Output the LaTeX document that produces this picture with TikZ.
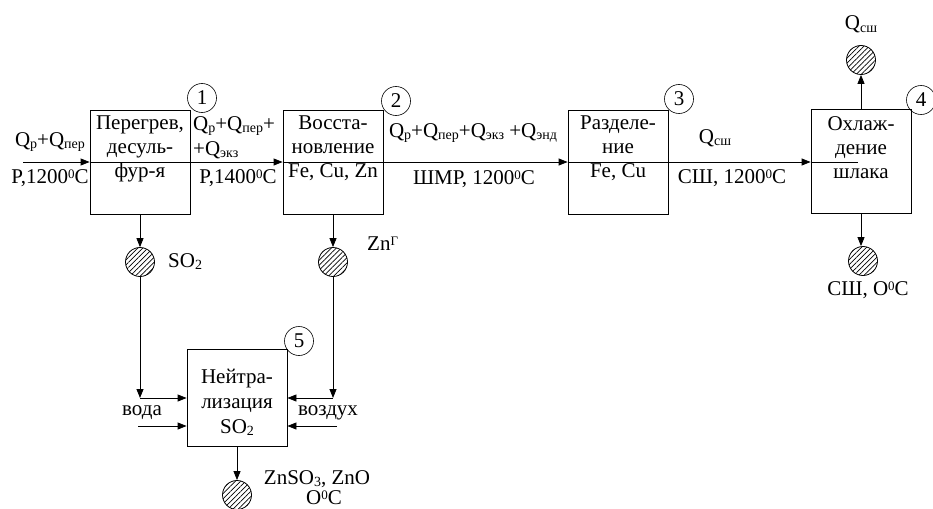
\documentclass[tikz,border=0pt]{standalone}
\usepackage{fontspec}
\setmainfont{Liberation Serif}
\usetikzlibrary{arrows.meta,patterns.meta}
\newcommand\subs[1]{\raisebox{-2.2pt}{\fontsize{14}{14}\selectfont #1}}
\newcommand\sups[1]{\raisebox{5pt}{\fontsize{13}{13}\selectfont #1}}
\begin{document}
\begin{tikzpicture}[x=1pt,y=-1pt,
  box/.style={draw,line width=0.8pt,minimum width=100pt,minimum height=104pt,inner sep=0},
  txt/.style={font=\fontsize{21}{24}\selectfont,align=center,inner sep=0,anchor=north},
  lbl/.style={font=\fontsize{21}{24}\selectfont,inner sep=0,anchor=base},
  num/.style={draw,circle,minimum size=29pt,inner sep=0,font=\fontsize{21}{24}\selectfont,line width=0.6pt},
  hat/.style={draw,circle,minimum size=29pt,inner sep=0,line width=0.8pt,
    pattern={Lines[angle=45,distance=3.6pt,line width=0.7pt]}},
  arr/.style={-{Triangle[length=9pt,width=7pt]},line width=0.8pt},
  ln/.style={line width=0.8pt}]
\useasboundingbox (0,0) rectangle (933,508);
% boxes
\node[box] (b1) at (140,162) {};
\node[box] (b2) at (333,162) {};
\node[box] (b3) at (618,162) {};
\node[box] (b4) at (861,161) {};
\node[box,minimum height=97pt] (b5) at (237,397.5) {};
% box texts
\node[txt] (t1) at (140,116) {Перегрев,\\десуль-\\фур-я};
\node[txt] (t2) at (333,116) {Восста-\\новление\\Fe, Cu, Zn};
\node[txt] (t3) at (618,116) {Разделе-\\ние\\Fe, Cu};
\node[txt] (t4) at (861,116) {Охлаж-\\дение\\шлака};
\node[txt,font=\fontsize{21}{25}\selectfont] (t5) at (237,369) {Нейтра-\\лизация\\SO\subs{2}};
% number circles
\node[num] (n1) at (202,98) {1};
\node[num] (n2) at (396,101) {2};
\node[num] (n3) at (679,99) {3};
\node[num] (n4) at (921,100) {4};
\node[num] (n5) at (299,341) {5};
% hatched circles
\node[hat] (h1) at (140,262) {};
\node[hat] (h2) at (333,262) {};
\node[hat] (h4t) at (861,60) {};
\node[hat] (h4b) at (863,261) {};
\node[hat] (h5) at (237,495) {};
% main line
\coordinate (in0) at (23,162);
\coordinate (e4) at (858,162);
\draw[arr] (in0) -- (b1.west);
\draw[ln] (b1.west) -- (b1.east);
\draw[arr] (b1.east) -- (b2.west);
\draw[ln] (b2.west) -- (b2.east);
\draw[arr] (b2.east) -- (b3.west);
\draw[ln] (b3.west) -- (b3.east);
\draw[arr] (b3.east) -- (b4.west |- b3.east);
\draw[ln] (b4.west |- b3.east) -- (e4);
% vertical outputs
\draw[arr] (b1.south) -- (h1.north);
\draw[arr] (b2.south) -- (h2.north);
\draw[arr] (b4.north) -- (h4t.south);
\draw[arr] (b4.south) -- (b4.south |- h4b.north);
\draw[arr] (b5.south) -- (h5.north);
% neutralisation inputs
\coordinate (cL) at (140,398);
\coordinate (wL) at (138,426);
\coordinate (cR) at (333,398);
\coordinate (wR) at (337,426);
\draw[arr] (h1.south) -- (cL);
\draw[arr] (cL) -- (cL -| b5.west);
\draw[arr] (wL) -- (wL -| b5.west);
\draw[arr] (h2.south) -- (cR);
\draw[arr] (cR) -- (cR -| b5.east);
\draw[arr] (wR) -- (wR -| b5.east);
% labels
\node[lbl] (l1) at (50,146) {Q\subs{р}+Q\subs{пер}};
\node[lbl] (l2) at (50,183) {P,1200\sups{0}C};
\node[lbl,anchor=base west] (l3) at (193,130) {Q\subs{р}+Q\subs{пер}+};
\node[lbl,anchor=base west] (l4) at (193,155) {+Q\subs{экз}};
\node[lbl] (l5) at (238,183) {P,1400\sups{0}C};
\node[lbl] (l6) at (473,137) {Q\subs{р}+Q\subs{пер}+Q\subs{экз} +Q\subs{энд}};
\node[lbl] (l7) at (474,184) {ШМР, 1200\sups{0}C};
\node[lbl] (l8) at (715,143) {Q\subs{сш}};
\node[lbl] (l9) at (732,183) {СШ, 1200\sups{0}C};
\node[lbl] (l10) at (861,30) {Q\subs{сш}};
\node[lbl] (l11) at (868,295) {СШ, O\sups{0}C};
\node[lbl,anchor=base west] (l12) at (168,267) {SO\subs{2}};
\node[lbl,anchor=base west] (l13) at (367,250) {Zn\sups{Г}};
\node[lbl] (l14) at (142,415) {вода};
\node[lbl] (l15) at (328,415) {воздух};
\node[lbl] (l16) at (317,484) {ZnSO\subs{3}, ZnO};
\node[lbl] (l17) at (324,504) {O\sups{0}C};
\end{tikzpicture}
\end{document}
